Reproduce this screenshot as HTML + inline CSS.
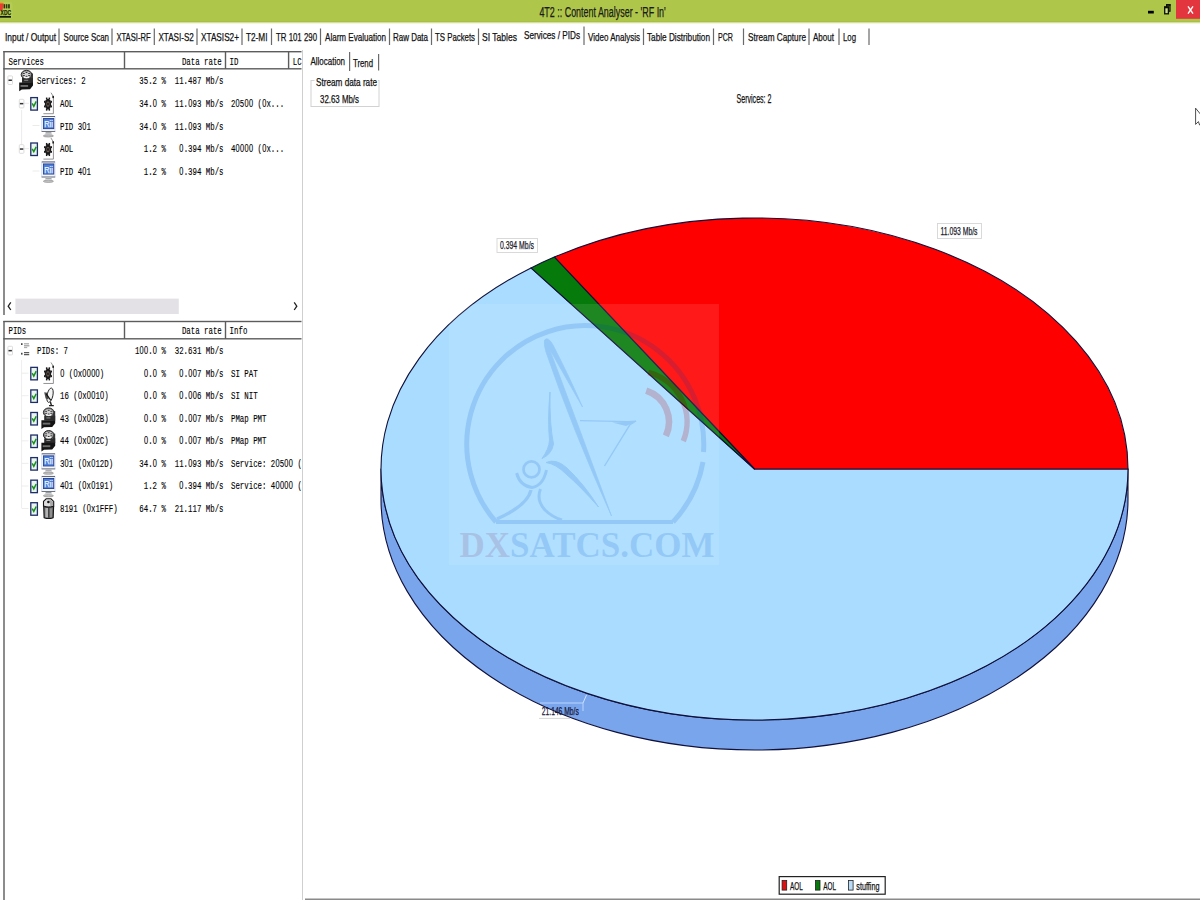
<!DOCTYPE html>
<html><head><meta charset="utf-8"><title>4T2 :: Content Analyser - 'RF In'</title>
<style>
html,body{margin:0;padding:0;background:#fff;width:1200px;height:900px;overflow:hidden}
svg{display:block}
text{white-space:pre}
</style></head><body>
<svg width="1200" height="900" viewBox="0 0 1200 900">
<rect x="0" y="0" width="1200" height="900" fill="#ffffff"/>

<g id="titlebar">
<rect x="0" y="0" width="1200" height="22.3" fill="#aec649"/>
<rect x="0" y="21.4" width="1200" height="0.9" fill="#a2bb42"/>
<rect x="0" y="22.3" width="1200" height="1" fill="#d3e09a"/>
<rect x="0" y="2" width="12.5" height="16.5" rx="2" fill="#c6da6c" opacity="0.3"/>
<path d="M0 3 L3.4 3 L2.6 10.6 L0 10.6 Z" fill="#ee3a30"/>
<rect x="0" y="2.6" width="3.4" height="1" fill="#f0902a"/>
<rect x="3.5" y="4.2" width="1.7" height="4.2" fill="#3a2a10"/><rect x="5.9" y="4.2" width="1.5" height="4.2" fill="#2a3a10"/><rect x="8.1" y="4.2" width="1.7" height="4.2" fill="#2a3a10"/>
<text x="0.6" y="15.2" font-size="7" font-family='"Liberation Sans", sans-serif' fill="#1c2a08" stroke="#1c2a08" stroke-width="0.25" textLength="10.40" lengthAdjust="spacingAndGlyphs" font-weight="bold">XDC</text>
<rect x="0" y="16" width="11" height="1.7" fill="#111a05"/>
<text x="539.4" y="17" font-size="14" font-family='"Liberation Sans", sans-serif' fill="#1a1a1a" stroke="#1a1a1a" stroke-width="0.25" textLength="126.40" lengthAdjust="spacingAndGlyphs">4T2 :: Content Analyser - 'RF In'</text>
<rect x="1148" y="10.8" width="5.8" height="2.7" fill="#000"/>
<rect x="1166.6" y="4.8" width="3.4" height="6.4" fill="#8fa63a" stroke="#0c1000" stroke-width="1.2"/>
<rect x="1166" y="4.1" width="4.6" height="1.6" fill="#0c1000"/>
<rect x="1164.7" y="7.2" width="3.7" height="6.6" fill="#cfe08e" stroke="#0c1000" stroke-width="1.3"/>
<rect x="1164" y="6.3" width="5.1" height="2" fill="#0c1000"/>
<rect x="1176" y="0" width="24" height="18.8" fill="#e2353d"/>
<path d="M1188 6.4 L1193 13.6 M1193 6.4 L1188 13.6" stroke="#fff" stroke-width="1.4" fill="none"/>
</g>
<g id="tabs">
<text x="5" y="41.3" font-size="11" font-family='"Liberation Sans", sans-serif' fill="#111" stroke="#111" stroke-width="0.25" textLength="51.00" lengthAdjust="spacingAndGlyphs">Input / Output</text>
<text x="63.6" y="41.3" font-size="11" font-family='"Liberation Sans", sans-serif' fill="#111" stroke="#111" stroke-width="0.25" textLength="45.40" lengthAdjust="spacingAndGlyphs">Source Scan</text>
<text x="116.4" y="41.3" font-size="11" font-family='"Liberation Sans", sans-serif' fill="#111" stroke="#111" stroke-width="0.25" textLength="34.20" lengthAdjust="spacingAndGlyphs">XTASI-RF</text>
<text x="158.4" y="41.3" font-size="11" font-family='"Liberation Sans", sans-serif' fill="#111" stroke="#111" stroke-width="0.25" textLength="35.40" lengthAdjust="spacingAndGlyphs">XTASI-S2</text>
<text x="201" y="41.3" font-size="11" font-family='"Liberation Sans", sans-serif' fill="#111" stroke="#111" stroke-width="0.25" textLength="38.00" lengthAdjust="spacingAndGlyphs">XTASIS2+</text>
<text x="246" y="41.3" font-size="11" font-family='"Liberation Sans", sans-serif' fill="#111" stroke="#111" stroke-width="0.25" textLength="21.50" lengthAdjust="spacingAndGlyphs">T2-MI</text>
<text x="276" y="41.3" font-size="11" font-family='"Liberation Sans", sans-serif' fill="#111" stroke="#111" stroke-width="0.25" textLength="41.00" lengthAdjust="spacingAndGlyphs">TR 101 290</text>
<text x="325" y="41.3" font-size="11" font-family='"Liberation Sans", sans-serif' fill="#111" stroke="#111" stroke-width="0.25" textLength="61.00" lengthAdjust="spacingAndGlyphs">Alarm Evaluation</text>
<text x="393" y="41.3" font-size="11" font-family='"Liberation Sans", sans-serif' fill="#111" stroke="#111" stroke-width="0.25" textLength="35.00" lengthAdjust="spacingAndGlyphs">Raw Data</text>
<text x="435" y="41.3" font-size="11" font-family='"Liberation Sans", sans-serif' fill="#111" stroke="#111" stroke-width="0.25" textLength="40.00" lengthAdjust="spacingAndGlyphs">TS Packets</text>
<text x="482" y="41.3" font-size="11" font-family='"Liberation Sans", sans-serif' fill="#111" stroke="#111" stroke-width="0.25" textLength="35.00" lengthAdjust="spacingAndGlyphs">SI Tables</text>
<text x="588" y="41.3" font-size="11" font-family='"Liberation Sans", sans-serif' fill="#111" stroke="#111" stroke-width="0.25" textLength="52.00" lengthAdjust="spacingAndGlyphs">Video Analysis</text>
<text x="647" y="41.3" font-size="11" font-family='"Liberation Sans", sans-serif' fill="#111" stroke="#111" stroke-width="0.25" textLength="63.00" lengthAdjust="spacingAndGlyphs">Table Distribution</text>
<text x="718" y="41.3" font-size="11" font-family='"Liberation Sans", sans-serif' fill="#111" stroke="#111" stroke-width="0.25" textLength="15.00" lengthAdjust="spacingAndGlyphs">PCR</text>
<text x="748" y="41.3" font-size="11" font-family='"Liberation Sans", sans-serif' fill="#111" stroke="#111" stroke-width="0.25" textLength="58.00" lengthAdjust="spacingAndGlyphs">Stream Capture</text>
<text x="813" y="41.3" font-size="11" font-family='"Liberation Sans", sans-serif' fill="#111" stroke="#111" stroke-width="0.25" textLength="21.00" lengthAdjust="spacingAndGlyphs">About</text>
<text x="843" y="41.3" font-size="11" font-family='"Liberation Sans", sans-serif' fill="#111" stroke="#111" stroke-width="0.25" textLength="13.00" lengthAdjust="spacingAndGlyphs">Log</text>
<text x="524" y="39" font-size="11" font-family='"Liberation Sans", sans-serif' fill="#111" stroke="#111" stroke-width="0.25" textLength="56.00" lengthAdjust="spacingAndGlyphs">Services / PIDs</text>
<rect x="58.4" y="28.5" width="1.2" height="16.5" fill="#6a6a6a"/>
<rect x="111.4" y="28.5" width="1.2" height="16.5" fill="#6a6a6a"/>
<rect x="153.70000000000002" y="28.5" width="1.2" height="16.5" fill="#6a6a6a"/>
<rect x="196.4" y="28.5" width="1.2" height="16.5" fill="#6a6a6a"/>
<rect x="241.4" y="28.5" width="1.2" height="16.5" fill="#6a6a6a"/>
<rect x="270.9" y="28.5" width="1.2" height="16.5" fill="#6a6a6a"/>
<rect x="319.9" y="28.5" width="1.2" height="16.5" fill="#6a6a6a"/>
<rect x="388.9" y="28.5" width="1.2" height="16.5" fill="#6a6a6a"/>
<rect x="430.9" y="28.5" width="1.2" height="16.5" fill="#6a6a6a"/>
<rect x="477.9" y="28.5" width="1.2" height="16.5" fill="#6a6a6a"/>
<rect x="642.9" y="28.5" width="1.2" height="16.5" fill="#6a6a6a"/>
<rect x="712.9" y="28.5" width="1.2" height="16.5" fill="#6a6a6a"/>
<rect x="742.9" y="28.5" width="1.2" height="16.5" fill="#6a6a6a"/>
<rect x="808.4" y="28.5" width="1.2" height="16.5" fill="#6a6a6a"/>
<rect x="838.4" y="28.5" width="1.2" height="16.5" fill="#6a6a6a"/>
<rect x="868.4" y="28.5" width="1.2" height="16.5" fill="#6a6a6a"/>
<rect x="583.4" y="26.5" width="1.2" height="18.5" fill="#6a6a6a"/>
</g>
<g id="services">
<rect x="3.3" y="51" width="298.2" height="1.4" fill="#5c5c5c"/>
<rect x="3.3" y="51" width="1.4" height="264" fill="#5c5c5c"/>
<rect x="3.3" y="68.1" width="298.2" height="1.4" fill="#5c5c5c"/>
<rect x="123.8" y="52" width="1.4" height="17" fill="#5c5c5c"/>
<rect x="224.8" y="52" width="1.4" height="17" fill="#5c5c5c"/>
<rect x="287.90000000000003" y="52" width="1.4" height="17" fill="#5c5c5c"/>
<text transform="translate(8.50 64.5) scale(0.6836 1)" x="0.00 6.48 12.96 19.44 25.92 32.40 38.88 45.36" y="0" font-size="10.8" font-family='"Liberation Mono", monospace' fill="#000" stroke="#000" stroke-width="0.14">Services</text>
<text transform="translate(181.93 64.5) scale(0.6836 1)" x="0.00 6.48 12.96 19.44" y="0" font-size="10.8" font-family='"Liberation Mono", monospace' fill="#000" stroke="#000" stroke-width="0.14">Data</text>
<text transform="translate(204.08 64.5) scale(0.6836 1)" x="0.00 6.48 12.96 19.44" y="0" font-size="10.8" font-family='"Liberation Mono", monospace' fill="#000" stroke="#000" stroke-width="0.14">rate</text>
<text transform="translate(229.60 64.5) scale(0.6836 1)" x="0.00 6.48" y="0" font-size="10.8" font-family='"Liberation Mono", monospace' fill="#000" stroke="#000" stroke-width="0.14">ID</text>
<text transform="translate(292.80 64.5) scale(0.6836 1)" x="0.00 6.48" y="0" font-size="10.8" font-family='"Liberation Mono", monospace' fill="#000" stroke="#000" stroke-width="0.14">LC</text>
</g>
<g id="svcrows">
<path d="M21.6 110 V147 M32.5 125.5 H39.5 M32.5 171 H39.5 M24 103.3 H29 M24 148.7 H29" stroke="#e6e6e6" stroke-width="0.8" fill="none"/>
<rect x="7.8999999999999995" y="75.9" width="4.6" height="8.6" rx="0.8" fill="#fff" stroke="#d4d4d4" stroke-width="0.8"/>
<rect x="8.5" y="79.5" width="3.4" height="1.5" fill="#333"/>
<rect x="30.6" y="73.4" width="2.4" height="9.4" fill="#3a3a3a"/>
<rect x="22.0" y="78.0" width="11" height="4.8" fill="#2c2c2c"/>
<ellipse cx="26.5" cy="74.7" rx="5.3" ry="4.4" fill="#7c7c7c" stroke="#2c2c2c" stroke-width="1"/>
<ellipse cx="26.5" cy="74.5" rx="3.9" ry="2.9" fill="#d2d2d2"/>
<ellipse cx="26.5" cy="77.3" rx="3" ry="0.9" fill="#f6f6f6"/>
<ellipse cx="23.9" cy="73.6" rx="1.1" ry="0.5" fill="#2e2e2e"/>
<ellipse cx="29.1" cy="73.6" rx="1.1" ry="0.5" fill="#2e2e2e"/>
<ellipse cx="23.9" cy="75.5" rx="1.1" ry="0.5" fill="#2e2e2e"/>
<ellipse cx="29.1" cy="75.5" rx="1.1" ry="0.5" fill="#2e2e2e"/>
<ellipse cx="26.5" cy="72.6" rx="1.1" ry="0.5" fill="#2e2e2e"/>
<ellipse cx="26.5" cy="76.2" rx="1.1" ry="0.5" fill="#2e2e2e"/>
<rect x="24.2" y="79.8" width="4" height="0.9" fill="#9a9a9a"/>
<path d="M19.2 82.5 L33.0 82.5 L33.0 85.6 L30.0 89.3 L21.8 89.6 L19.2 91.2Z" fill="#141414"/>
<rect x="20.5" y="85.0" width="7.6" height="1.9" fill="#6e6e6e"/>
<text transform="translate(37.00 84.0) scale(0.6836 1)" x="0.00 6.48 12.96 19.44 25.92 32.40 38.88 45.36 51.84" y="0" font-size="10.8" font-family='"Liberation Mono", monospace' fill="#000" stroke="#000" stroke-width="0.14">Services:</text>
<text transform="translate(81.30 84.0) scale(0.6836 1)" x="0.00" y="0" font-size="10.8" font-family='"Liberation Mono", monospace' fill="#000" stroke="#000" stroke-width="0.14">2</text>
<text transform="translate(139.33 84.0) scale(0.6836 1)" x="0.00 6.48 12.96 19.44" y="0" font-size="10.8" font-family='"Liberation Mono", monospace' fill="#000" stroke="#000" stroke-width="0.14">35.2</text>
<text transform="translate(161.48 84.0) scale(0.6836 1)" x="0.00" y="0" font-size="10.8" font-family='"Liberation Mono", monospace' fill="#000" stroke="#000" stroke-width="0.14">%</text>
<text transform="translate(174.77 84.0) scale(0.6836 1)" x="0.00 6.48 12.96 19.44 25.92 32.40" y="0" font-size="10.8" font-family='"Liberation Mono", monospace' fill="#000" stroke="#000" stroke-width="0.14">11.487</text>
<text transform="translate(205.78 84.0) scale(0.6836 1)" x="0.00 6.48 12.96 19.44" y="0" font-size="10.8" font-family='"Liberation Mono", monospace' fill="#000" stroke="#000" stroke-width="0.14">Mb/s</text>
<rect x="19.3" y="99.3" width="4.6" height="8.6" rx="0.8" fill="#fff" stroke="#d4d4d4" stroke-width="0.8"/>
<rect x="19.900000000000002" y="102.89999999999999" width="3.4" height="1.5" fill="#333"/>
<rect x="30.8" y="97.6" width="6.6" height="12.5" fill="#eaf5ee" stroke="#1f2d68" stroke-width="1.3"/>
<path d="M32.2 103.4 L33.8 106.3 L36.2 101.4" fill="none" stroke="#17901f" stroke-width="1.5"/>
<path d="M51.0 92.69999999999999 L53.4 96.69999999999999 L53.4 113.69999999999999 L43.4 113.69999999999999" fill="none" stroke="#777" stroke-width="0.8"/>
<rect x="52.4" y="95.89999999999999" width="1.5" height="2.2" fill="#111"/>
<ellipse cx="48" cy="104.1" rx="3.2" ry="5.4" fill="#1a1a1a"/>
<rect x="50.48" y="105.40" width="1.5" height="2.0" fill="#1a1a1a"/>
<rect x="48.59" y="108.64" width="1.5" height="2.0" fill="#1a1a1a"/>
<rect x="45.91" y="108.64" width="1.5" height="2.0" fill="#1a1a1a"/>
<rect x="44.02" y="105.40" width="1.5" height="2.0" fill="#1a1a1a"/>
<rect x="44.02" y="100.80" width="1.5" height="2.0" fill="#1a1a1a"/>
<rect x="45.91" y="97.56" width="1.5" height="2.0" fill="#1a1a1a"/>
<rect x="48.59" y="97.56" width="1.5" height="2.0" fill="#1a1a1a"/>
<rect x="50.48" y="100.80" width="1.5" height="2.0" fill="#1a1a1a"/>
<ellipse cx="48" cy="104.1" rx="1.7" ry="2.8" fill="#6a5a50"/>
<ellipse cx="48" cy="104.1" rx="0.8" ry="1.4" fill="#111"/>
<text transform="translate(60.00 106.8) scale(0.6836 1)" x="0.00 6.48 12.96" y="0" font-size="10.8" font-family='"Liberation Mono", monospace' fill="#000" stroke="#000" stroke-width="0.14">AOL</text>
<text transform="translate(231.00 106.8) scale(0.6836 1)" x="0.00 6.73 12.96 19.69 26.17" y="0" font-size="10.8" font-family='"Liberation Mono", monospace' fill="#000" stroke="#000" stroke-width="0.14">2<tspan font-family='"Liberation Sans", sans-serif'>0</tspan>5<tspan font-family='"Liberation Sans", sans-serif'>0</tspan><tspan font-family='"Liberation Sans", sans-serif'>0</tspan></text>
<text transform="translate(257.58 106.8) scale(0.6836 1)" x="0.00 6.73 12.96 19.44 25.92 32.40" y="0" font-size="10.8" font-family='"Liberation Mono", monospace' fill="#000" stroke="#000" stroke-width="0.14">(<tspan font-family='"Liberation Sans", sans-serif'>0</tspan>x...</text>
<rect x="19.3" y="144.7" width="4.6" height="8.6" rx="0.8" fill="#fff" stroke="#d4d4d4" stroke-width="0.8"/>
<rect x="19.900000000000002" y="148.3" width="3.4" height="1.5" fill="#333"/>
<rect x="30.8" y="142.99999999999997" width="6.6" height="12.5" fill="#eaf5ee" stroke="#1f2d68" stroke-width="1.3"/>
<path d="M32.2 148.79999999999998 L33.8 151.7 L36.2 146.79999999999998" fill="none" stroke="#17901f" stroke-width="1.5"/>
<path d="M51.0 138.1 L53.4 142.1 L53.4 159.1 L43.4 159.1" fill="none" stroke="#777" stroke-width="0.8"/>
<rect x="52.4" y="141.3" width="1.5" height="2.2" fill="#111"/>
<ellipse cx="48" cy="149.5" rx="3.2" ry="5.4" fill="#1a1a1a"/>
<rect x="50.48" y="150.80" width="1.5" height="2.0" fill="#1a1a1a"/>
<rect x="48.59" y="154.04" width="1.5" height="2.0" fill="#1a1a1a"/>
<rect x="45.91" y="154.04" width="1.5" height="2.0" fill="#1a1a1a"/>
<rect x="44.02" y="150.80" width="1.5" height="2.0" fill="#1a1a1a"/>
<rect x="44.02" y="146.20" width="1.5" height="2.0" fill="#1a1a1a"/>
<rect x="45.91" y="142.96" width="1.5" height="2.0" fill="#1a1a1a"/>
<rect x="48.59" y="142.96" width="1.5" height="2.0" fill="#1a1a1a"/>
<rect x="50.48" y="146.20" width="1.5" height="2.0" fill="#1a1a1a"/>
<ellipse cx="48" cy="149.5" rx="1.7" ry="2.8" fill="#6a5a50"/>
<ellipse cx="48" cy="149.5" rx="0.8" ry="1.4" fill="#111"/>
<text transform="translate(60.00 152.2) scale(0.6836 1)" x="0.00 6.48 12.96" y="0" font-size="10.8" font-family='"Liberation Mono", monospace' fill="#000" stroke="#000" stroke-width="0.14">AOL</text>
<text transform="translate(231.00 152.2) scale(0.6836 1)" x="0.00 6.73 13.21 19.69 26.17" y="0" font-size="10.8" font-family='"Liberation Mono", monospace' fill="#000" stroke="#000" stroke-width="0.14">4<tspan font-family='"Liberation Sans", sans-serif'>0</tspan><tspan font-family='"Liberation Sans", sans-serif'>0</tspan><tspan font-family='"Liberation Sans", sans-serif'>0</tspan><tspan font-family='"Liberation Sans", sans-serif'>0</tspan></text>
<text transform="translate(257.58 152.2) scale(0.6836 1)" x="0.00 6.73 12.96 19.44 25.92 32.40" y="0" font-size="10.8" font-family='"Liberation Mono", monospace' fill="#000" stroke="#000" stroke-width="0.14">(<tspan font-family='"Liberation Sans", sans-serif'>0</tspan>x...</text>
<text transform="translate(139.33 106.8) scale(0.6836 1)" x="0.00 6.48 12.96 19.69" y="0" font-size="10.8" font-family='"Liberation Mono", monospace' fill="#000" stroke="#000" stroke-width="0.14">34.<tspan font-family='"Liberation Sans", sans-serif'>0</tspan></text>
<text transform="translate(161.48 106.8) scale(0.6836 1)" x="0.00" y="0" font-size="10.8" font-family='"Liberation Mono", monospace' fill="#000" stroke="#000" stroke-width="0.14">%</text>
<text transform="translate(174.77 106.8) scale(0.6836 1)" x="0.00 6.48 12.96 19.69 25.92 32.40" y="0" font-size="10.8" font-family='"Liberation Mono", monospace' fill="#000" stroke="#000" stroke-width="0.14">11.<tspan font-family='"Liberation Sans", sans-serif'>0</tspan>93</text>
<text transform="translate(205.78 106.8) scale(0.6836 1)" x="0.00 6.48 12.96 19.44" y="0" font-size="10.8" font-family='"Liberation Mono", monospace' fill="#000" stroke="#000" stroke-width="0.14">Mb/s</text>
<text transform="translate(143.76 152.2) scale(0.6836 1)" x="0.00 6.48 12.96" y="0" font-size="10.8" font-family='"Liberation Mono", monospace' fill="#000" stroke="#000" stroke-width="0.14">1.2</text>
<text transform="translate(161.48 152.2) scale(0.6836 1)" x="0.00" y="0" font-size="10.8" font-family='"Liberation Mono", monospace' fill="#000" stroke="#000" stroke-width="0.14">%</text>
<text transform="translate(179.20 152.2) scale(0.6836 1)" x="0.25 6.48 12.96 19.44 25.92" y="0" font-size="10.8" font-family='"Liberation Mono", monospace' fill="#000" stroke="#000" stroke-width="0.14"><tspan font-family='"Liberation Sans", sans-serif'>0</tspan>.394</text>
<text transform="translate(205.78 152.2) scale(0.6836 1)" x="0.00 6.48 12.96 19.44" y="0" font-size="10.8" font-family='"Liberation Mono", monospace' fill="#000" stroke="#000" stroke-width="0.14">Mb/s</text>
<rect x="41.800000000000004" y="116.4" width="13.2" height="15.2" fill="#f5f8fe" stroke="#c2d0ec" stroke-width="0.7"/>
<rect x="41.800000000000004" y="116.10000000000001" width="13.2" height="0.9" fill="#50546a"/>
<rect x="41.6" y="131.20000000000002" width="13.6" height="0.8" fill="#5a5a62"/>
<rect x="43.0" y="118.10000000000001" width="11.2" height="11" fill="#1f3585"/>
<rect x="43.6" y="118.9" width="10" height="9.5" fill="#4e7ed6"/>
<text x="44.2" y="127.10000000000001" font-size="9.6" font-family='"Liberation Sans", sans-serif' fill="#eef6ff" stroke="#eef6ff" stroke-width="0.25" textLength="8.60" lengthAdjust="spacingAndGlyphs">Rii</text>
<path d="M46.0 132.20000000000002 L51.0 132.20000000000002 L52.2 134.4 L44.800000000000004 134.4Z" fill="#cfd3da"/>
<rect x="45.6" y="132.4" width="5.8" height="0.8" fill="#8a8a8a"/>
<ellipse cx="48.4" cy="135.9" rx="5" ry="1.1" fill="#c4c4c4" stroke="#8c8c8c" stroke-width="0.7"/>
<text transform="translate(60.00 129.5) scale(0.6836 1)" x="0.00 6.48 12.96" y="0" font-size="10.8" font-family='"Liberation Mono", monospace' fill="#000" stroke="#000" stroke-width="0.14">PID</text>
<text transform="translate(77.72 129.5) scale(0.6836 1)" x="0.00 6.73 12.96" y="0" font-size="10.8" font-family='"Liberation Mono", monospace' fill="#000" stroke="#000" stroke-width="0.14">3<tspan font-family='"Liberation Sans", sans-serif'>0</tspan>1</text>
<text transform="translate(139.33 129.5) scale(0.6836 1)" x="0.00 6.48 12.96 19.69" y="0" font-size="10.8" font-family='"Liberation Mono", monospace' fill="#000" stroke="#000" stroke-width="0.14">34.<tspan font-family='"Liberation Sans", sans-serif'>0</tspan></text>
<text transform="translate(161.48 129.5) scale(0.6836 1)" x="0.00" y="0" font-size="10.8" font-family='"Liberation Mono", monospace' fill="#000" stroke="#000" stroke-width="0.14">%</text>
<text transform="translate(174.77 129.5) scale(0.6836 1)" x="0.00 6.48 12.96 19.69 25.92 32.40" y="0" font-size="10.8" font-family='"Liberation Mono", monospace' fill="#000" stroke="#000" stroke-width="0.14">11.<tspan font-family='"Liberation Sans", sans-serif'>0</tspan>93</text>
<text transform="translate(205.78 129.5) scale(0.6836 1)" x="0.00 6.48 12.96 19.44" y="0" font-size="10.8" font-family='"Liberation Mono", monospace' fill="#000" stroke="#000" stroke-width="0.14">Mb/s</text>
<rect x="41.800000000000004" y="161.8" width="13.2" height="15.2" fill="#f5f8fe" stroke="#c2d0ec" stroke-width="0.7"/>
<rect x="41.800000000000004" y="161.5" width="13.2" height="0.9" fill="#50546a"/>
<rect x="41.6" y="176.60000000000002" width="13.6" height="0.8" fill="#5a5a62"/>
<rect x="43.0" y="163.5" width="11.2" height="11" fill="#1f3585"/>
<rect x="43.6" y="164.3" width="10" height="9.5" fill="#4e7ed6"/>
<text x="44.2" y="172.5" font-size="9.6" font-family='"Liberation Sans", sans-serif' fill="#eef6ff" stroke="#eef6ff" stroke-width="0.25" textLength="8.60" lengthAdjust="spacingAndGlyphs">Rii</text>
<path d="M46.0 177.60000000000002 L51.0 177.60000000000002 L52.2 179.8 L44.800000000000004 179.8Z" fill="#cfd3da"/>
<rect x="45.6" y="177.8" width="5.8" height="0.8" fill="#8a8a8a"/>
<ellipse cx="48.4" cy="181.3" rx="5" ry="1.1" fill="#c4c4c4" stroke="#8c8c8c" stroke-width="0.7"/>
<text transform="translate(60.00 174.9) scale(0.6836 1)" x="0.00 6.48 12.96" y="0" font-size="10.8" font-family='"Liberation Mono", monospace' fill="#000" stroke="#000" stroke-width="0.14">PID</text>
<text transform="translate(77.72 174.9) scale(0.6836 1)" x="0.00 6.73 12.96" y="0" font-size="10.8" font-family='"Liberation Mono", monospace' fill="#000" stroke="#000" stroke-width="0.14">4<tspan font-family='"Liberation Sans", sans-serif'>0</tspan>1</text>
<text transform="translate(143.76 174.9) scale(0.6836 1)" x="0.00 6.48 12.96" y="0" font-size="10.8" font-family='"Liberation Mono", monospace' fill="#000" stroke="#000" stroke-width="0.14">1.2</text>
<text transform="translate(161.48 174.9) scale(0.6836 1)" x="0.00" y="0" font-size="10.8" font-family='"Liberation Mono", monospace' fill="#000" stroke="#000" stroke-width="0.14">%</text>
<text transform="translate(179.20 174.9) scale(0.6836 1)" x="0.25 6.48 12.96 19.44 25.92" y="0" font-size="10.8" font-family='"Liberation Mono", monospace' fill="#000" stroke="#000" stroke-width="0.14"><tspan font-family='"Liberation Sans", sans-serif'>0</tspan>.394</text>
<text transform="translate(205.78 174.9) scale(0.6836 1)" x="0.00 6.48 12.96 19.44" y="0" font-size="10.8" font-family='"Liberation Mono", monospace' fill="#000" stroke="#000" stroke-width="0.14">Mb/s</text>
<rect x="15.4" y="298.6" width="163.4" height="15.4" fill="#e3e1e6"/>
<path d="M10.8 302.4 L8.2 306.2 L10.8 310" fill="none" stroke="#222" stroke-width="1.3"/>
<path d="M294.2 302.4 L296.8 306.2 L294.2 310" fill="none" stroke="#222" stroke-width="1.3"/>
</g>
<g id="pids">
<rect x="3.3" y="320.8" width="298.2" height="1.4" fill="#5c5c5c"/>
<rect x="3.3" y="321" width="1.4" height="579" fill="#5c5c5c"/>
<rect x="3.3" y="338.1" width="298.2" height="1.4" fill="#5c5c5c"/>
<rect x="123.8" y="322" width="1.4" height="17" fill="#5c5c5c"/>
<rect x="224.8" y="322" width="1.4" height="17" fill="#5c5c5c"/>
<text transform="translate(8.50 334.3) scale(0.6836 1)" x="0.00 6.48 12.96 19.44" y="0" font-size="10.8" font-family='"Liberation Mono", monospace' fill="#000" stroke="#000" stroke-width="0.14">PIDs</text>
<text transform="translate(181.93 334.3) scale(0.6836 1)" x="0.00 6.48 12.96 19.44" y="0" font-size="10.8" font-family='"Liberation Mono", monospace' fill="#000" stroke="#000" stroke-width="0.14">Data</text>
<text transform="translate(204.08 334.3) scale(0.6836 1)" x="0.00 6.48 12.96 19.44" y="0" font-size="10.8" font-family='"Liberation Mono", monospace' fill="#000" stroke="#000" stroke-width="0.14">rate</text>
<text transform="translate(229.60 334.3) scale(0.6836 1)" x="0.00 6.48 12.96 19.44" y="0" font-size="10.8" font-family='"Liberation Mono", monospace' fill="#000" stroke="#000" stroke-width="0.14">Info</text>
<rect x="7.8999999999999995" y="346.3" width="4.6" height="8.6" rx="0.8" fill="#fff" stroke="#d4d4d4" stroke-width="0.8"/>
<rect x="8.5" y="349.90000000000003" width="3.4" height="1.5" fill="#333"/>
<rect x="24.0" y="343.40000000000003" width="5" height="0.9" fill="#888"/>
<rect x="24.0" y="345.40000000000003" width="5.4" height="0.9" fill="#777"/>
<rect x="24.0" y="347.20000000000005" width="3.2" height="0.9" fill="#999"/>
<rect x="21.1" y="343.20000000000005" width="1.4" height="1.8" fill="#333"/>
<rect x="24.0" y="352.20000000000005" width="5.2" height="1" fill="#333"/>
<rect x="24.0" y="354.20000000000005" width="5.2" height="1" fill="#333"/>
<rect x="21.1" y="352.8" width="1.4" height="1.8" fill="#333"/>
<text transform="translate(37.00 354.0) scale(0.6836 1)" x="0.00 6.48 12.96 19.44 25.92" y="0" font-size="10.8" font-family='"Liberation Mono", monospace' fill="#000" stroke="#000" stroke-width="0.14">PIDs:</text>
<text transform="translate(63.58 354.0) scale(0.6836 1)" x="0.00" y="0" font-size="10.8" font-family='"Liberation Mono", monospace' fill="#000" stroke="#000" stroke-width="0.14">7</text>
<text transform="translate(134.90 354.0) scale(0.6836 1)" x="0.00 6.73 13.21 19.44 26.17" y="0" font-size="10.8" font-family='"Liberation Mono", monospace' fill="#000" stroke="#000" stroke-width="0.14">1<tspan font-family='"Liberation Sans", sans-serif'>0</tspan><tspan font-family='"Liberation Sans", sans-serif'>0</tspan>.<tspan font-family='"Liberation Sans", sans-serif'>0</tspan></text>
<text transform="translate(161.48 354.0) scale(0.6836 1)" x="0.00" y="0" font-size="10.8" font-family='"Liberation Mono", monospace' fill="#000" stroke="#000" stroke-width="0.14">%</text>
<text transform="translate(174.77 354.0) scale(0.6836 1)" x="0.00 6.48 12.96 19.44 25.92 32.40" y="0" font-size="10.8" font-family='"Liberation Mono", monospace' fill="#000" stroke="#000" stroke-width="0.14">32.631</text>
<text transform="translate(205.78 354.0) scale(0.6836 1)" x="0.00 6.48 12.96 19.44" y="0" font-size="10.8" font-family='"Liberation Mono", monospace' fill="#000" stroke="#000" stroke-width="0.14">Mb/s</text>
<path d="M21.6 360 V508 M21.6 373.2 H28.5 M21.6 395.7 H28.5 M21.6 418.3 H28.5 M21.6 440.8 H28.5 M21.6 463.4 H28.5 M21.6 486.0 H28.5 M21.6 508.5 H28.5" stroke="#e8e8e8" stroke-width="0.8" fill="none"/>
<rect x="30.8" y="367.36" width="6.6" height="12.5" fill="#eaf5ee" stroke="#1f2d68" stroke-width="1.3"/>
<path d="M32.2 373.15999999999997 L33.8 376.06 L36.2 371.15999999999997" fill="none" stroke="#17901f" stroke-width="1.5"/>
<path d="M51.0 362.46000000000004 L53.4 366.46000000000004 L53.4 383.46000000000004 L43.4 383.46000000000004" fill="none" stroke="#777" stroke-width="0.8"/>
<rect x="52.4" y="365.66" width="1.5" height="2.2" fill="#111"/>
<ellipse cx="48" cy="373.86" rx="3.2" ry="5.4" fill="#1a1a1a"/>
<rect x="50.48" y="375.16" width="1.5" height="2.0" fill="#1a1a1a"/>
<rect x="48.59" y="378.40" width="1.5" height="2.0" fill="#1a1a1a"/>
<rect x="45.91" y="378.40" width="1.5" height="2.0" fill="#1a1a1a"/>
<rect x="44.02" y="375.16" width="1.5" height="2.0" fill="#1a1a1a"/>
<rect x="44.02" y="370.56" width="1.5" height="2.0" fill="#1a1a1a"/>
<rect x="45.91" y="367.32" width="1.5" height="2.0" fill="#1a1a1a"/>
<rect x="48.59" y="367.32" width="1.5" height="2.0" fill="#1a1a1a"/>
<rect x="50.48" y="370.56" width="1.5" height="2.0" fill="#1a1a1a"/>
<ellipse cx="48" cy="373.86" rx="1.7" ry="2.8" fill="#6a5a50"/>
<ellipse cx="48" cy="373.86" rx="0.8" ry="1.4" fill="#111"/>
<text transform="translate(60.00 376.56) scale(0.6836 1)" x="0.25" y="0" font-size="10.8" font-family='"Liberation Mono", monospace' fill="#000" stroke="#000" stroke-width="0.14"><tspan font-family='"Liberation Sans", sans-serif'>0</tspan></text>
<text transform="translate(68.86 376.56) scale(0.6836 1)" x="0.00 6.73 12.96 19.69 26.17 32.65 39.13 45.36" y="0" font-size="10.8" font-family='"Liberation Mono", monospace' fill="#000" stroke="#000" stroke-width="0.14">(<tspan font-family='"Liberation Sans", sans-serif'>0</tspan>x<tspan font-family='"Liberation Sans", sans-serif'>0</tspan><tspan font-family='"Liberation Sans", sans-serif'>0</tspan><tspan font-family='"Liberation Sans", sans-serif'>0</tspan><tspan font-family='"Liberation Sans", sans-serif'>0</tspan>)</text>
<text transform="translate(143.76 376.56) scale(0.6836 1)" x="0.25 6.48 13.21" y="0" font-size="10.8" font-family='"Liberation Mono", monospace' fill="#000" stroke="#000" stroke-width="0.14"><tspan font-family='"Liberation Sans", sans-serif'>0</tspan>.<tspan font-family='"Liberation Sans", sans-serif'>0</tspan></text>
<text transform="translate(161.48 376.56) scale(0.6836 1)" x="0.00" y="0" font-size="10.8" font-family='"Liberation Mono", monospace' fill="#000" stroke="#000" stroke-width="0.14">%</text>
<text transform="translate(179.20 376.56) scale(0.6836 1)" x="0.25 6.48 13.21 19.69 25.92" y="0" font-size="10.8" font-family='"Liberation Mono", monospace' fill="#000" stroke="#000" stroke-width="0.14"><tspan font-family='"Liberation Sans", sans-serif'>0</tspan>.<tspan font-family='"Liberation Sans", sans-serif'>0</tspan><tspan font-family='"Liberation Sans", sans-serif'>0</tspan>7</text>
<text transform="translate(205.78 376.56) scale(0.6836 1)" x="0.00 6.48 12.96 19.44" y="0" font-size="10.8" font-family='"Liberation Mono", monospace' fill="#000" stroke="#000" stroke-width="0.14">Mb/s</text>
<text transform="translate(231.00 376.56) scale(0.6836 1)" x="0.00 6.48" y="0" font-size="10.8" font-family='"Liberation Mono", monospace' fill="#000" stroke="#000" stroke-width="0.14">SI</text>
<text transform="translate(244.29 376.56) scale(0.6836 1)" x="0.00 6.48 12.96" y="0" font-size="10.8" font-family='"Liberation Mono", monospace' fill="#000" stroke="#000" stroke-width="0.14">PAT</text>
<rect x="30.8" y="389.92" width="6.6" height="12.5" fill="#eaf5ee" stroke="#1f2d68" stroke-width="1.3"/>
<path d="M32.2 395.71999999999997 L33.8 398.62 L36.2 393.71999999999997" fill="none" stroke="#17901f" stroke-width="1.5"/>
<ellipse cx="50.0" cy="395.22" rx="2.9" ry="7.3" fill="#f4f4f4" stroke="#222" stroke-width="0.9" transform="rotate(12 50.0 395.22)"/>
<path d="M44.199999999999996 392.22 L47.6 392.82 L48.6 399.22 L45.6 398.62Z" fill="#4a4a4a"/>
<path d="M46.199999999999996 393.82 L50.8 400.42" stroke="#111" stroke-width="1.1"/>
<path d="M50.4 402.02 L51.4 405.42 M49.0 405.62 L53.8 405.62" stroke="#222" stroke-width="1.4" fill="none"/>
<text transform="translate(60.00 399.12) scale(0.6836 1)" x="0.00 6.48" y="0" font-size="10.8" font-family='"Liberation Mono", monospace' fill="#000" stroke="#000" stroke-width="0.14">16</text>
<text transform="translate(73.29 399.12) scale(0.6836 1)" x="0.00 6.73 12.96 19.69 26.17 32.40 39.13 45.36" y="0" font-size="10.8" font-family='"Liberation Mono", monospace' fill="#000" stroke="#000" stroke-width="0.14">(<tspan font-family='"Liberation Sans", sans-serif'>0</tspan>x<tspan font-family='"Liberation Sans", sans-serif'>0</tspan><tspan font-family='"Liberation Sans", sans-serif'>0</tspan>1<tspan font-family='"Liberation Sans", sans-serif'>0</tspan>)</text>
<text transform="translate(143.76 399.12) scale(0.6836 1)" x="0.25 6.48 13.21" y="0" font-size="10.8" font-family='"Liberation Mono", monospace' fill="#000" stroke="#000" stroke-width="0.14"><tspan font-family='"Liberation Sans", sans-serif'>0</tspan>.<tspan font-family='"Liberation Sans", sans-serif'>0</tspan></text>
<text transform="translate(161.48 399.12) scale(0.6836 1)" x="0.00" y="0" font-size="10.8" font-family='"Liberation Mono", monospace' fill="#000" stroke="#000" stroke-width="0.14">%</text>
<text transform="translate(179.20 399.12) scale(0.6836 1)" x="0.25 6.48 13.21 19.69 25.92" y="0" font-size="10.8" font-family='"Liberation Mono", monospace' fill="#000" stroke="#000" stroke-width="0.14"><tspan font-family='"Liberation Sans", sans-serif'>0</tspan>.<tspan font-family='"Liberation Sans", sans-serif'>0</tspan><tspan font-family='"Liberation Sans", sans-serif'>0</tspan>6</text>
<text transform="translate(205.78 399.12) scale(0.6836 1)" x="0.00 6.48 12.96 19.44" y="0" font-size="10.8" font-family='"Liberation Mono", monospace' fill="#000" stroke="#000" stroke-width="0.14">Mb/s</text>
<text transform="translate(231.00 399.12) scale(0.6836 1)" x="0.00 6.48" y="0" font-size="10.8" font-family='"Liberation Mono", monospace' fill="#000" stroke="#000" stroke-width="0.14">SI</text>
<text transform="translate(244.29 399.12) scale(0.6836 1)" x="0.00 6.48 12.96" y="0" font-size="10.8" font-family='"Liberation Mono", monospace' fill="#000" stroke="#000" stroke-width="0.14">NIT</text>
<rect x="30.8" y="412.48" width="6.6" height="12.5" fill="#eaf5ee" stroke="#1f2d68" stroke-width="1.3"/>
<path d="M32.2 418.28 L33.8 421.18 L36.2 416.28" fill="none" stroke="#17901f" stroke-width="1.5"/>
<rect x="52.8" y="411.08" width="2.4" height="9.4" fill="#3a3a3a"/>
<rect x="44.199999999999996" y="415.68" width="11" height="4.8" fill="#2c2c2c"/>
<ellipse cx="48.699999999999996" cy="412.38" rx="5.3" ry="4.4" fill="#7c7c7c" stroke="#2c2c2c" stroke-width="1"/>
<ellipse cx="48.699999999999996" cy="412.18" rx="3.9" ry="2.9" fill="#d2d2d2"/>
<ellipse cx="48.699999999999996" cy="414.98" rx="3" ry="0.9" fill="#f6f6f6"/>
<ellipse cx="46.099999999999994" cy="411.28000000000003" rx="1.1" ry="0.5" fill="#2e2e2e"/>
<ellipse cx="51.3" cy="411.28000000000003" rx="1.1" ry="0.5" fill="#2e2e2e"/>
<ellipse cx="46.099999999999994" cy="413.18" rx="1.1" ry="0.5" fill="#2e2e2e"/>
<ellipse cx="51.3" cy="413.18" rx="1.1" ry="0.5" fill="#2e2e2e"/>
<ellipse cx="48.699999999999996" cy="410.28000000000003" rx="1.1" ry="0.5" fill="#2e2e2e"/>
<ellipse cx="48.699999999999996" cy="413.88" rx="1.1" ry="0.5" fill="#2e2e2e"/>
<rect x="46.4" y="417.48" width="4" height="0.9" fill="#9a9a9a"/>
<path d="M41.4 420.18 L55.2 420.18 L55.2 423.28000000000003 L52.2 426.98 L44.0 427.28000000000003 L41.4 428.88Z" fill="#141414"/>
<rect x="42.699999999999996" y="422.68" width="7.6" height="1.9" fill="#6e6e6e"/>
<text transform="translate(60.00 421.68) scale(0.6836 1)" x="0.00 6.48" y="0" font-size="10.8" font-family='"Liberation Mono", monospace' fill="#000" stroke="#000" stroke-width="0.14">43</text>
<text transform="translate(73.29 421.68) scale(0.6836 1)" x="0.00 6.73 12.96 19.69 26.17 32.40 38.88 45.36" y="0" font-size="10.8" font-family='"Liberation Mono", monospace' fill="#000" stroke="#000" stroke-width="0.14">(<tspan font-family='"Liberation Sans", sans-serif'>0</tspan>x<tspan font-family='"Liberation Sans", sans-serif'>0</tspan><tspan font-family='"Liberation Sans", sans-serif'>0</tspan>2B)</text>
<text transform="translate(143.76 421.68) scale(0.6836 1)" x="0.25 6.48 13.21" y="0" font-size="10.8" font-family='"Liberation Mono", monospace' fill="#000" stroke="#000" stroke-width="0.14"><tspan font-family='"Liberation Sans", sans-serif'>0</tspan>.<tspan font-family='"Liberation Sans", sans-serif'>0</tspan></text>
<text transform="translate(161.48 421.68) scale(0.6836 1)" x="0.00" y="0" font-size="10.8" font-family='"Liberation Mono", monospace' fill="#000" stroke="#000" stroke-width="0.14">%</text>
<text transform="translate(179.20 421.68) scale(0.6836 1)" x="0.25 6.48 13.21 19.69 25.92" y="0" font-size="10.8" font-family='"Liberation Mono", monospace' fill="#000" stroke="#000" stroke-width="0.14"><tspan font-family='"Liberation Sans", sans-serif'>0</tspan>.<tspan font-family='"Liberation Sans", sans-serif'>0</tspan><tspan font-family='"Liberation Sans", sans-serif'>0</tspan>7</text>
<text transform="translate(205.78 421.68) scale(0.6836 1)" x="0.00 6.48 12.96 19.44" y="0" font-size="10.8" font-family='"Liberation Mono", monospace' fill="#000" stroke="#000" stroke-width="0.14">Mb/s</text>
<text transform="translate(231.00 421.68) scale(0.6836 1)" x="0.00 6.48 12.96 19.44" y="0" font-size="10.8" font-family='"Liberation Mono", monospace' fill="#000" stroke="#000" stroke-width="0.14">PMap</text>
<text transform="translate(253.15 421.68) scale(0.6836 1)" x="0.00 6.48 12.96" y="0" font-size="10.8" font-family='"Liberation Mono", monospace' fill="#000" stroke="#000" stroke-width="0.14">PMT</text>
<rect x="30.8" y="435.04" width="6.6" height="12.5" fill="#eaf5ee" stroke="#1f2d68" stroke-width="1.3"/>
<path d="M32.2 440.84 L33.8 443.74 L36.2 438.84" fill="none" stroke="#17901f" stroke-width="1.5"/>
<rect x="52.8" y="433.64" width="2.4" height="9.4" fill="#3a3a3a"/>
<rect x="44.199999999999996" y="438.24" width="11" height="4.8" fill="#2c2c2c"/>
<ellipse cx="48.699999999999996" cy="434.94" rx="5.3" ry="4.4" fill="#7c7c7c" stroke="#2c2c2c" stroke-width="1"/>
<ellipse cx="48.699999999999996" cy="434.74" rx="3.9" ry="2.9" fill="#d2d2d2"/>
<ellipse cx="48.699999999999996" cy="437.54" rx="3" ry="0.9" fill="#f6f6f6"/>
<ellipse cx="46.099999999999994" cy="433.84000000000003" rx="1.1" ry="0.5" fill="#2e2e2e"/>
<ellipse cx="51.3" cy="433.84000000000003" rx="1.1" ry="0.5" fill="#2e2e2e"/>
<ellipse cx="46.099999999999994" cy="435.74" rx="1.1" ry="0.5" fill="#2e2e2e"/>
<ellipse cx="51.3" cy="435.74" rx="1.1" ry="0.5" fill="#2e2e2e"/>
<ellipse cx="48.699999999999996" cy="432.84000000000003" rx="1.1" ry="0.5" fill="#2e2e2e"/>
<ellipse cx="48.699999999999996" cy="436.44" rx="1.1" ry="0.5" fill="#2e2e2e"/>
<rect x="46.4" y="440.04" width="4" height="0.9" fill="#9a9a9a"/>
<path d="M41.4 442.74 L55.2 442.74 L55.2 445.84000000000003 L52.2 449.54 L44.0 449.84000000000003 L41.4 451.44Z" fill="#141414"/>
<rect x="42.699999999999996" y="445.24" width="7.6" height="1.9" fill="#6e6e6e"/>
<text transform="translate(60.00 444.24) scale(0.6836 1)" x="0.00 6.48" y="0" font-size="10.8" font-family='"Liberation Mono", monospace' fill="#000" stroke="#000" stroke-width="0.14">44</text>
<text transform="translate(73.29 444.24) scale(0.6836 1)" x="0.00 6.73 12.96 19.69 26.17 32.40 38.88 45.36" y="0" font-size="10.8" font-family='"Liberation Mono", monospace' fill="#000" stroke="#000" stroke-width="0.14">(<tspan font-family='"Liberation Sans", sans-serif'>0</tspan>x<tspan font-family='"Liberation Sans", sans-serif'>0</tspan><tspan font-family='"Liberation Sans", sans-serif'>0</tspan>2C)</text>
<text transform="translate(143.76 444.24) scale(0.6836 1)" x="0.25 6.48 13.21" y="0" font-size="10.8" font-family='"Liberation Mono", monospace' fill="#000" stroke="#000" stroke-width="0.14"><tspan font-family='"Liberation Sans", sans-serif'>0</tspan>.<tspan font-family='"Liberation Sans", sans-serif'>0</tspan></text>
<text transform="translate(161.48 444.24) scale(0.6836 1)" x="0.00" y="0" font-size="10.8" font-family='"Liberation Mono", monospace' fill="#000" stroke="#000" stroke-width="0.14">%</text>
<text transform="translate(179.20 444.24) scale(0.6836 1)" x="0.25 6.48 13.21 19.69 25.92" y="0" font-size="10.8" font-family='"Liberation Mono", monospace' fill="#000" stroke="#000" stroke-width="0.14"><tspan font-family='"Liberation Sans", sans-serif'>0</tspan>.<tspan font-family='"Liberation Sans", sans-serif'>0</tspan><tspan font-family='"Liberation Sans", sans-serif'>0</tspan>7</text>
<text transform="translate(205.78 444.24) scale(0.6836 1)" x="0.00 6.48 12.96 19.44" y="0" font-size="10.8" font-family='"Liberation Mono", monospace' fill="#000" stroke="#000" stroke-width="0.14">Mb/s</text>
<text transform="translate(231.00 444.24) scale(0.6836 1)" x="0.00 6.48 12.96 19.44" y="0" font-size="10.8" font-family='"Liberation Mono", monospace' fill="#000" stroke="#000" stroke-width="0.14">PMap</text>
<text transform="translate(253.15 444.24) scale(0.6836 1)" x="0.00 6.48 12.96" y="0" font-size="10.8" font-family='"Liberation Mono", monospace' fill="#000" stroke="#000" stroke-width="0.14">PMT</text>
<rect x="30.8" y="457.6" width="6.6" height="12.5" fill="#eaf5ee" stroke="#1f2d68" stroke-width="1.3"/>
<path d="M32.2 463.4 L33.8 466.3 L36.2 461.4" fill="none" stroke="#17901f" stroke-width="1.5"/>
<rect x="41.800000000000004" y="453.7" width="13.2" height="15.2" fill="#f5f8fe" stroke="#c2d0ec" stroke-width="0.7"/>
<rect x="41.800000000000004" y="453.4" width="13.2" height="0.9" fill="#50546a"/>
<rect x="41.6" y="468.5" width="13.6" height="0.8" fill="#5a5a62"/>
<rect x="43.0" y="455.4" width="11.2" height="11" fill="#1f3585"/>
<rect x="43.6" y="456.2" width="10" height="9.5" fill="#4e7ed6"/>
<text x="44.2" y="464.4" font-size="9.6" font-family='"Liberation Sans", sans-serif' fill="#eef6ff" stroke="#eef6ff" stroke-width="0.25" textLength="8.60" lengthAdjust="spacingAndGlyphs">Rii</text>
<path d="M46.0 469.5 L51.0 469.5 L52.2 471.7 L44.800000000000004 471.7Z" fill="#cfd3da"/>
<rect x="45.6" y="469.7" width="5.8" height="0.8" fill="#8a8a8a"/>
<ellipse cx="48.4" cy="473.2" rx="5" ry="1.1" fill="#c4c4c4" stroke="#8c8c8c" stroke-width="0.7"/>
<text transform="translate(60.00 466.8) scale(0.6836 1)" x="0.00 6.73 12.96" y="0" font-size="10.8" font-family='"Liberation Mono", monospace' fill="#000" stroke="#000" stroke-width="0.14">3<tspan font-family='"Liberation Sans", sans-serif'>0</tspan>1</text>
<text transform="translate(77.72 466.8) scale(0.6836 1)" x="0.00 6.73 12.96 19.69 25.92 32.40 38.88 45.36" y="0" font-size="10.8" font-family='"Liberation Mono", monospace' fill="#000" stroke="#000" stroke-width="0.14">(<tspan font-family='"Liberation Sans", sans-serif'>0</tspan>x<tspan font-family='"Liberation Sans", sans-serif'>0</tspan>12D)</text>
<text transform="translate(139.33 466.8) scale(0.6836 1)" x="0.00 6.48 12.96 19.69" y="0" font-size="10.8" font-family='"Liberation Mono", monospace' fill="#000" stroke="#000" stroke-width="0.14">34.<tspan font-family='"Liberation Sans", sans-serif'>0</tspan></text>
<text transform="translate(161.48 466.8) scale(0.6836 1)" x="0.00" y="0" font-size="10.8" font-family='"Liberation Mono", monospace' fill="#000" stroke="#000" stroke-width="0.14">%</text>
<text transform="translate(174.77 466.8) scale(0.6836 1)" x="0.00 6.48 12.96 19.69 25.92 32.40" y="0" font-size="10.8" font-family='"Liberation Mono", monospace' fill="#000" stroke="#000" stroke-width="0.14">11.<tspan font-family='"Liberation Sans", sans-serif'>0</tspan>93</text>
<text transform="translate(205.78 466.8) scale(0.6836 1)" x="0.00 6.48 12.96 19.44" y="0" font-size="10.8" font-family='"Liberation Mono", monospace' fill="#000" stroke="#000" stroke-width="0.14">Mb/s</text>
<text transform="translate(231.00 466.8) scale(0.6836 1)" x="0.00 6.48 12.96 19.44 25.92 32.40 38.88 45.36" y="0" font-size="10.8" font-family='"Liberation Mono", monospace' fill="#000" stroke="#000" stroke-width="0.14">Service:</text>
<text transform="translate(270.87 466.8) scale(0.6836 1)" x="0.00 6.73 12.96 19.69 26.17" y="0" font-size="10.8" font-family='"Liberation Mono", monospace' fill="#000" stroke="#000" stroke-width="0.14">2<tspan font-family='"Liberation Sans", sans-serif'>0</tspan>5<tspan font-family='"Liberation Sans", sans-serif'>0</tspan><tspan font-family='"Liberation Sans", sans-serif'>0</tspan></text>
<text transform="translate(297.45 466.8) scale(0.6836 1)" x="0.00" y="0" font-size="10.8" font-family='"Liberation Mono", monospace' fill="#000" stroke="#000" stroke-width="0.14">(</text>
<rect x="30.8" y="480.16" width="6.6" height="12.5" fill="#eaf5ee" stroke="#1f2d68" stroke-width="1.3"/>
<path d="M32.2 485.96 L33.8 488.86 L36.2 483.96" fill="none" stroke="#17901f" stroke-width="1.5"/>
<rect x="41.800000000000004" y="476.26" width="13.2" height="15.2" fill="#f5f8fe" stroke="#c2d0ec" stroke-width="0.7"/>
<rect x="41.800000000000004" y="475.96" width="13.2" height="0.9" fill="#50546a"/>
<rect x="41.6" y="491.06" width="13.6" height="0.8" fill="#5a5a62"/>
<rect x="43.0" y="477.96" width="11.2" height="11" fill="#1f3585"/>
<rect x="43.6" y="478.76" width="10" height="9.5" fill="#4e7ed6"/>
<text x="44.2" y="486.96" font-size="9.6" font-family='"Liberation Sans", sans-serif' fill="#eef6ff" stroke="#eef6ff" stroke-width="0.25" textLength="8.60" lengthAdjust="spacingAndGlyphs">Rii</text>
<path d="M46.0 492.06 L51.0 492.06 L52.2 494.26 L44.800000000000004 494.26Z" fill="#cfd3da"/>
<rect x="45.6" y="492.26" width="5.8" height="0.8" fill="#8a8a8a"/>
<ellipse cx="48.4" cy="495.76" rx="5" ry="1.1" fill="#c4c4c4" stroke="#8c8c8c" stroke-width="0.7"/>
<text transform="translate(60.00 489.36) scale(0.6836 1)" x="0.00 6.73 12.96" y="0" font-size="10.8" font-family='"Liberation Mono", monospace' fill="#000" stroke="#000" stroke-width="0.14">4<tspan font-family='"Liberation Sans", sans-serif'>0</tspan>1</text>
<text transform="translate(77.72 489.36) scale(0.6836 1)" x="0.00 6.73 12.96 19.69 25.92 32.40 38.88 45.36" y="0" font-size="10.8" font-family='"Liberation Mono", monospace' fill="#000" stroke="#000" stroke-width="0.14">(<tspan font-family='"Liberation Sans", sans-serif'>0</tspan>x<tspan font-family='"Liberation Sans", sans-serif'>0</tspan>191)</text>
<text transform="translate(143.76 489.36) scale(0.6836 1)" x="0.00 6.48 12.96" y="0" font-size="10.8" font-family='"Liberation Mono", monospace' fill="#000" stroke="#000" stroke-width="0.14">1.2</text>
<text transform="translate(161.48 489.36) scale(0.6836 1)" x="0.00" y="0" font-size="10.8" font-family='"Liberation Mono", monospace' fill="#000" stroke="#000" stroke-width="0.14">%</text>
<text transform="translate(179.20 489.36) scale(0.6836 1)" x="0.25 6.48 12.96 19.44 25.92" y="0" font-size="10.8" font-family='"Liberation Mono", monospace' fill="#000" stroke="#000" stroke-width="0.14"><tspan font-family='"Liberation Sans", sans-serif'>0</tspan>.394</text>
<text transform="translate(205.78 489.36) scale(0.6836 1)" x="0.00 6.48 12.96 19.44" y="0" font-size="10.8" font-family='"Liberation Mono", monospace' fill="#000" stroke="#000" stroke-width="0.14">Mb/s</text>
<text transform="translate(231.00 489.36) scale(0.6836 1)" x="0.00 6.48 12.96 19.44 25.92 32.40 38.88 45.36" y="0" font-size="10.8" font-family='"Liberation Mono", monospace' fill="#000" stroke="#000" stroke-width="0.14">Service:</text>
<text transform="translate(270.87 489.36) scale(0.6836 1)" x="0.00 6.73 13.21 19.69 26.17" y="0" font-size="10.8" font-family='"Liberation Mono", monospace' fill="#000" stroke="#000" stroke-width="0.14">4<tspan font-family='"Liberation Sans", sans-serif'>0</tspan><tspan font-family='"Liberation Sans", sans-serif'>0</tspan><tspan font-family='"Liberation Sans", sans-serif'>0</tspan><tspan font-family='"Liberation Sans", sans-serif'>0</tspan></text>
<text transform="translate(297.45 489.36) scale(0.6836 1)" x="0.00" y="0" font-size="10.8" font-family='"Liberation Mono", monospace' fill="#000" stroke="#000" stroke-width="0.14">(</text>
<rect x="30.8" y="502.71999999999997" width="6.6" height="12.5" fill="#eaf5ee" stroke="#1f2d68" stroke-width="1.3"/>
<path d="M32.2 508.5199999999999 L33.8 511.41999999999996 L36.2 506.5199999999999" fill="none" stroke="#17901f" stroke-width="1.5"/>
<path d="M43.7 506.62 L53.6 506.62 L53.2 517.62 Q48.6 519.42 44.1 517.62Z" fill="#6e6e6e" stroke="#161616" stroke-width="1.1"/>
<rect x="45.400000000000006" y="508.02" width="2.6" height="9.4" fill="#b4b4b4"/>
<rect x="48.400000000000006" y="508.02" width="0.9" height="9.6" fill="#2a2a2a"/>
<rect x="49.800000000000004" y="508.41999999999996" width="2.2" height="9" fill="#8e8e8e"/>
<path d="M43.5 501.41999999999996 L46.2 498.82 L51.0 498.82 L53.7 501.41999999999996 L53.7 506.02 Q48.6 508.21999999999997 43.5 506.02Z" fill="#dedede" stroke="#161616" stroke-width="1.1"/>
<path d="M49.6 499.62 L53.0 501.82 L53.0 505.62 L50.400000000000006 506.62Z" fill="#a8a8a8"/>
<ellipse cx="48.400000000000006" cy="502.02" rx="1.3" ry="1.2" fill="#111"/>
<text transform="translate(60.00 511.91999999999996) scale(0.6836 1)" x="0.00 6.48 12.96 19.44" y="0" font-size="10.8" font-family='"Liberation Mono", monospace' fill="#000" stroke="#000" stroke-width="0.14">8191</text>
<text transform="translate(82.15 511.91999999999996) scale(0.6836 1)" x="0.00 6.73 12.96 19.44 25.92 32.40 38.88 45.36" y="0" font-size="10.8" font-family='"Liberation Mono", monospace' fill="#000" stroke="#000" stroke-width="0.14">(<tspan font-family='"Liberation Sans", sans-serif'>0</tspan>x1FFF)</text>
<text transform="translate(139.33 511.91999999999996) scale(0.6836 1)" x="0.00 6.48 12.96 19.44" y="0" font-size="10.8" font-family='"Liberation Mono", monospace' fill="#000" stroke="#000" stroke-width="0.14">64.7</text>
<text transform="translate(161.48 511.91999999999996) scale(0.6836 1)" x="0.00" y="0" font-size="10.8" font-family='"Liberation Mono", monospace' fill="#000" stroke="#000" stroke-width="0.14">%</text>
<text transform="translate(174.77 511.91999999999996) scale(0.6836 1)" x="0.00 6.48 12.96 19.44 25.92 32.40" y="0" font-size="10.8" font-family='"Liberation Mono", monospace' fill="#000" stroke="#000" stroke-width="0.14">21.117</text>
<text transform="translate(205.78 511.91999999999996) scale(0.6836 1)" x="0.00 6.48 12.96 19.44" y="0" font-size="10.8" font-family='"Liberation Mono", monospace' fill="#000" stroke="#000" stroke-width="0.14">Mb/s</text>
</g>
<rect x="302" y="50" width="1" height="850" fill="#cfcfcf"/>
<g id="right">
<text x="310.5" y="64.5" font-size="11" font-family='"Liberation Sans", sans-serif' fill="#111" stroke="#111" stroke-width="0.25" textLength="34.50" lengthAdjust="spacingAndGlyphs">Allocation</text>
<text x="353" y="67" font-size="11" font-family='"Liberation Sans", sans-serif' fill="#111" stroke="#111" stroke-width="0.25" textLength="20.00" lengthAdjust="spacingAndGlyphs">Trend</text>
<rect x="349" y="52" width="1.2" height="19" fill="#6a6a6a"/>
<rect x="378" y="54" width="1.2" height="16.5" fill="#6a6a6a"/>
<rect x="311" y="80.5" width="68" height="26" fill="none" stroke="#d2d2d2" stroke-width="1"/>
<rect x="314.5" y="78" width="63.5" height="5" fill="#fff"/>
<text x="316" y="86" font-size="11" font-family='"Liberation Sans", sans-serif' fill="#111" stroke="#111" stroke-width="0.25" textLength="61.00" lengthAdjust="spacingAndGlyphs">Stream data rate</text>
<text x="320" y="102.5" font-size="11" font-family='"Liberation Sans", sans-serif' fill="#111" stroke="#111" stroke-width="0.25" textLength="39.00" lengthAdjust="spacingAndGlyphs">32.63 Mb/s</text>
<rect x="305" y="898.5" width="895" height="1.5" fill="#8a8a8a"/>
</g>
<g id="pie">
<path d="M381.00 469.00 A373.5 251.0 0 0 0 1128.00 469.00 L1128.00 499.00 A373.5 251.0 0 0 1 381.00 499.00 Z" fill="#79a5ec" stroke="#10103a" stroke-width="1.1" stroke-linejoin="round"/>
<path d="M754.5 469.0 L530.99 267.90 A373.5 251.0 0 1 0 1128.00 469.00 Z" fill="#a9dcff" stroke="#10103a" stroke-width="1.1" stroke-linejoin="round"/>
<path d="M754.5 469.0 L1128.00 469.00 A373.5 251.0 0 0 0 554.37 257.07 Z" fill="#ff0000" stroke="#10103a" stroke-width="1.1" stroke-linejoin="round"/>
<path d="M754.5 469.0 L554.37 257.07 A373.5 251.0 0 0 0 530.99 267.90 Z" fill="#067a0a" stroke="#10103a" stroke-width="1.1" stroke-linejoin="round"/>
<g opacity="0.22">
<rect x="449" y="304" width="270" height="261" fill="#ffffff" opacity="0.45"/>
<path d="M496 522 A118.5 118.5 0 1 1 703.5 452" fill="none" stroke="#4f86d9" stroke-width="5"/>
<path d="M703 462 A118.5 118.5 0 0 1 673 522" fill="none" stroke="#4f86d9" stroke-width="5"/>
<path d="M496 522 H673" fill="none" stroke="#4f86d9" stroke-width="4"/>
<path d="M544.6 340 Q548 336 553 345 Q570 378 582.5 407 Q566 378 549.5 349 Q580 430 611.5 516 Q572 428 546 352 Q543.5 344 544.6 340Z" fill="#4f86d9" stroke="#4f86d9" stroke-width="0.8"/>
<path d="M550 392 Q549.5 425 553.5 444 Q552 454 542 458.5 Q549 449 549.5 440 Q547.5 420 550 392Z" fill="#4f86d9" stroke="#4f86d9" stroke-width="1"/>
<path d="M546 462.5 Q556 458 567 468 Q584 484 598.5 507 Q580 486 566 474 Q556 464 546 462.5Z" fill="#4f86d9" stroke="#4f86d9" stroke-width="1"/>
<path d="M580 420.6 L628 421.6 L636 421.2 L630 424.6 L604.5 466" fill="none" stroke="#4f86d9" stroke-width="1.4"/>
<path d="M612 422.6 L636 421.4 L626 426Z" fill="#4f86d9"/>
<circle cx="531.5" cy="469.4" r="8" fill="none" stroke="#4f86d9" stroke-width="2.8"/>
<path d="M516.6 473 Q520 486 532 487.4 Q543 486 546.5 470" fill="none" stroke="#4f86d9" stroke-width="3"/>
<path d="M531 490 Q528 505 497 519" fill="none" stroke="#4f86d9" stroke-width="3.4"/>
<path d="M540.5 489 Q536 500 545 510 Q552 517 562 520" fill="none" stroke="#4f86d9" stroke-width="3"/>
<path d="M646.2 390.6 A33 33 0 0 1 665.9 435.9" fill="none" stroke="#d82028" stroke-width="6.5"/>
<path d="M648.3 372.5 A51 51 0 0 1 683.3 441.1" fill="none" stroke="#d82028" stroke-width="5.5"/>
<text x="459.5" y="556.5" font-size="36" font-weight="bold" font-family='"Liberation Serif", serif' textLength="255" lengthAdjust="spacingAndGlyphs"><tspan fill="#a8688c">DX</tspan><tspan fill="#4f86d9">SATCS.COM</tspan></text>
</g>
<rect x="937.5" y="223.5" width="44.0" height="15.0" fill="#fff" stroke="#d6d6d6" stroke-width="0.9"/>
<text x="940.5" y="234.8" font-size="10.8" font-family='"Liberation Sans", sans-serif' fill="#1a1a2a" stroke="#1a1a2a" stroke-width="0.25" textLength="37.00" lengthAdjust="spacingAndGlyphs">11.093 Mb/s</text>
<rect x="497" y="238.5" width="40.5" height="14.0" fill="#fff" stroke="#d6d6d6" stroke-width="0.9"/>
<text x="500" y="249" font-size="10.8" font-family='"Liberation Sans", sans-serif' fill="#1a1a2a" stroke="#1a1a2a" stroke-width="0.25" textLength="34.00" lengthAdjust="spacingAndGlyphs">0.394 Mb/s</text>
<path d="M540 703 H583 V711" fill="none" stroke="#b9d6fb" stroke-width="1"/>
<path d="M583 703 L586.5 695" fill="none" stroke="#cfe4ff" stroke-width="1"/>
<path d="M539 718.4 H570" fill="none" stroke="#d6d6d6" stroke-width="1"/>
<text x="541.8" y="714.6" font-size="10.8" font-family='"Liberation Sans", sans-serif' fill="#16163a" stroke="#16163a" stroke-width="0.25" textLength="37.00" lengthAdjust="spacingAndGlyphs">21.146 Mb/s</text>
<text x="736.6" y="102.9" font-size="12" font-family='"Liberation Sans", sans-serif' fill="#111" stroke="#111" stroke-width="0.25" textLength="34.80" lengthAdjust="spacingAndGlyphs">Services: 2</text>
<rect x="779.2" y="876.6" width="106" height="17.6" fill="#fff" stroke="#222" stroke-width="1.2"/>
<rect x="782.1" y="880.5" width="4.6" height="9.6" fill="#e01010" stroke="#222" stroke-width="0.8"/>
<text x="789.9" y="889.7" font-size="10.8" font-family='"Liberation Sans", sans-serif' fill="#111" stroke="#111" stroke-width="0.25" textLength="12.80" lengthAdjust="spacingAndGlyphs">AOL</text>
<rect x="815.4" y="880.5" width="4.6" height="9.6" fill="#067a0a" stroke="#222" stroke-width="0.8"/>
<text x="823.1999999999999" y="889.7" font-size="10.8" font-family='"Liberation Sans", sans-serif' fill="#111" stroke="#111" stroke-width="0.25" textLength="12.80" lengthAdjust="spacingAndGlyphs">AOL</text>
<rect x="848.5" y="880.5" width="4.6" height="9.6" fill="#b8dcf8" stroke="#222" stroke-width="0.8"/>
<text x="856.3" y="889.7" font-size="10.8" font-family='"Liberation Sans", sans-serif' fill="#111" stroke="#111" stroke-width="0.25" textLength="23.20" lengthAdjust="spacingAndGlyphs">stuffing</text>
</g>
<path d="M1195.6 108.2 L1195.6 124.4 L1198.4 121.6 L1199.6 125 L1201.5 125 L1201.5 115.4 Z" fill="#fff" stroke="#222" stroke-width="0.8"/>
</svg>
</body></html>
